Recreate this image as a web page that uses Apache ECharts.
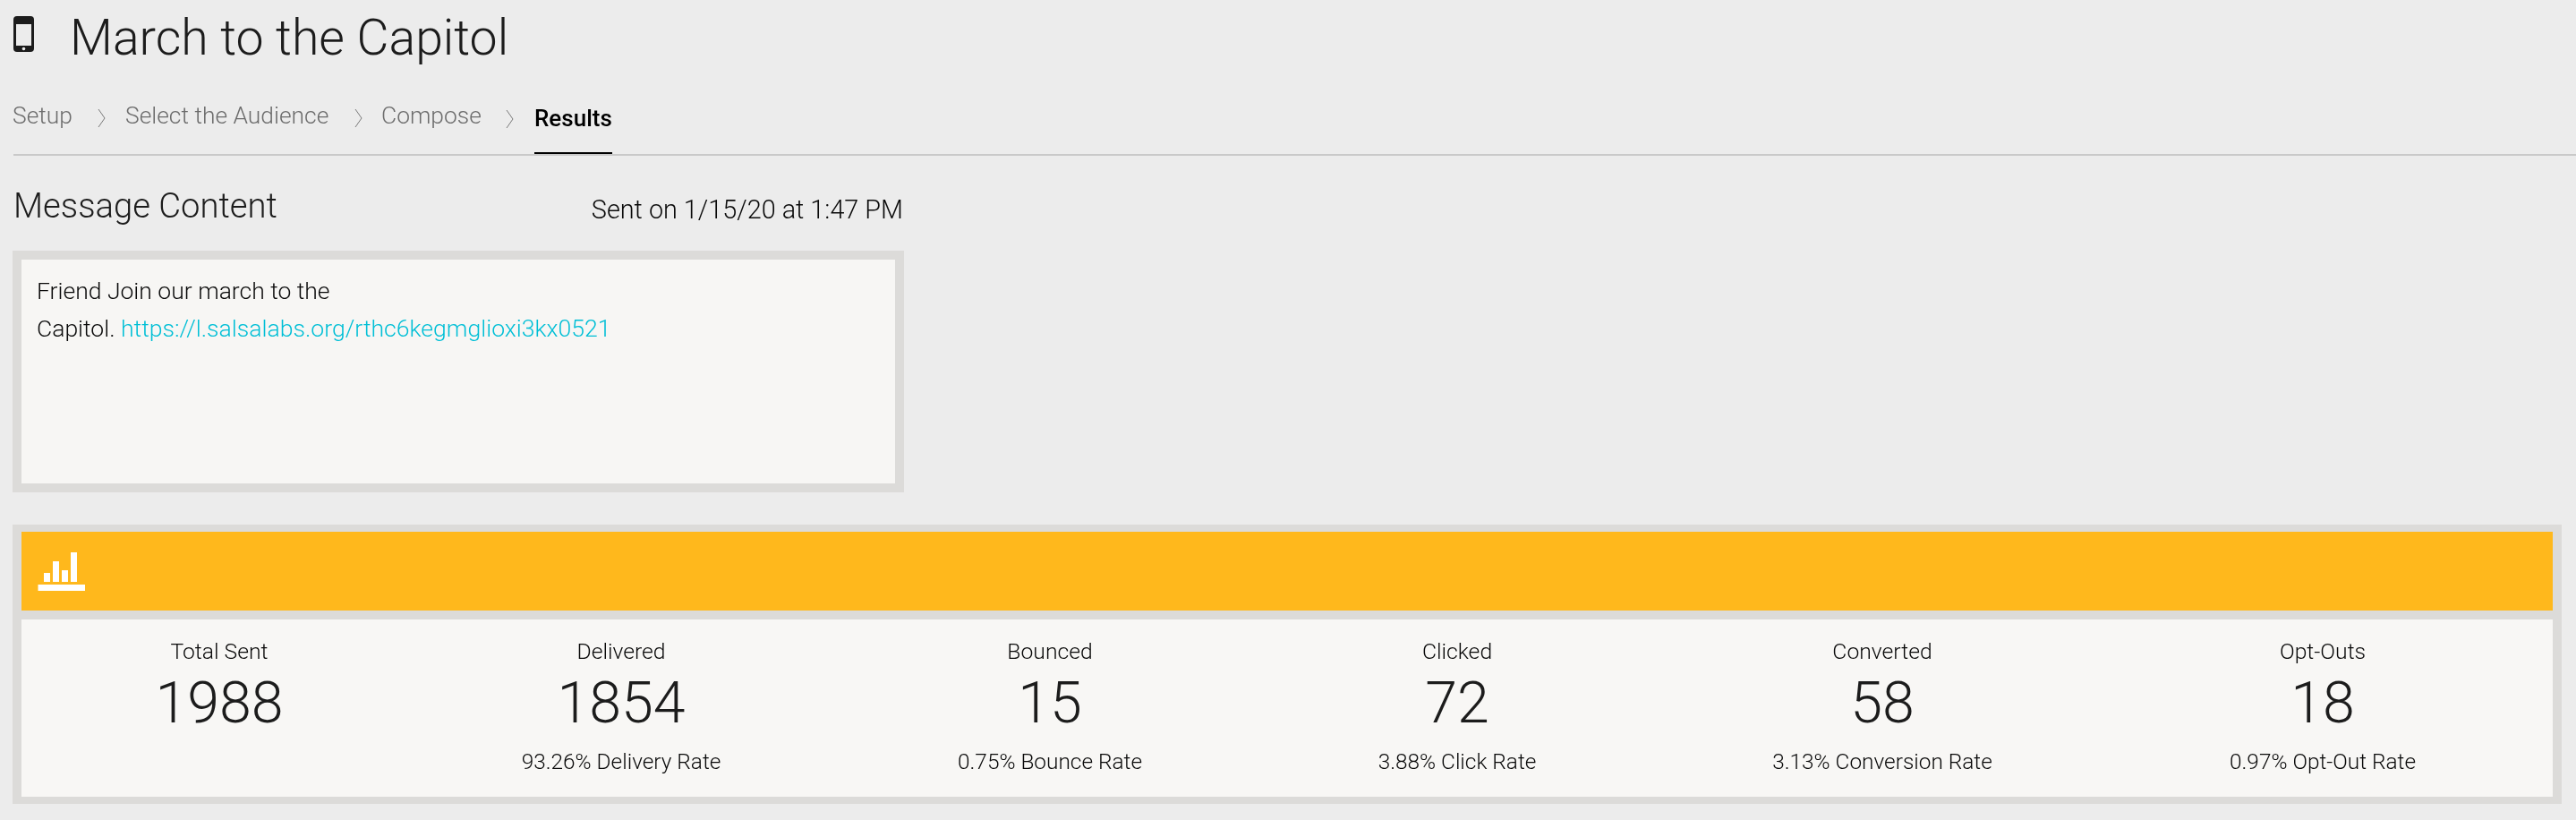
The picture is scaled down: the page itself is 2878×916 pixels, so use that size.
<!DOCTYPE html>
<html lang="en">
<head>
    <meta charset="UTF-8">
    <title>March to the Capitol</title>
    <script src="https://cdnjs.cloudflare.com/ajax/libs/echarts/6.0.0/echarts.min.js"></script>
    <style>
        * { margin: 0; padding: 0; box-sizing: border-box; }
        html, body { width: 100%; height: 100%; background: #ececec; overflow: hidden; }
        #main { width: 2878px; height: 916px; }
    </style>
</head>
<body>
    <div id="main"></div>
    <script>
        // page text
        const pageTitle = 'March to the Capitol';
        const steps = ['Setup', 'Select the Audience', 'Compose', 'Results'];
        const sentOn = 'Sent on 1/15/20 at 1:47 PM';
        const messageLine1 = 'Friend Join our march to the';
        const messageLine2 = 'Capitol. ';
        const messageLink = 'https://l.salsalabs.org/rthc6kegmglioxi3kx0521';

        // results table
        const metricNames = ['Total Sent', 'Delivered', 'Bounced', 'Clicked', 'Converted', 'Opt-Outs'];
        const metricValues = [1988, 1854, 15, 72, 58, 18];
        const metricRates = ['', '93.26% Delivery Rate', '0.75% Bounce Rate', '3.88% Click Rate', '3.13% Conversion Rate', '0.97% Opt-Out Rate'];

        // layout
        const columnCenters = [245, 694, 1173, 1628, 2103, 2595];
        const stepLefts = [14, 140, 426, 597];
        const chevronLefts = [110, 397, 566];
        const iconBars = [[49, 640, 7, 10], [59, 627, 7, 23], [69, 637, 7, 13], [79, 617, 7, 33]];

        const FONT = 'Roboto, sans-serif';
        const INK = '#1c1c1c';
        const SMALL_INK = '#0a0a0a';

        function text(str, x, baseline, size, opts) {
            opts = opts || {};
            return {
                type: 'text',
                x: x,
                y: baseline - size * 0.26,
                style: {
                    text: str,
                    fontFamily: FONT,
                    fontSize: size,
                    fontWeight: opts.weight || 300,
                    fill: opts.color || INK,
                    align: opts.align || 'left',
                    verticalAlign: 'middle'
                }
            };
        }

        function box(x, y, w, h, color, r) {
            return {
                type: 'rect',
                shape: { x: x, y: y, width: w, height: h, r: r || 0 },
                style: { fill: color }
            };
        }

        const elements = [];

        // phone icon + title
        elements.push(box(15, 18, 23, 40, INK, 4));
        elements.push(box(18, 27, 17, 24, '#ececec'));
        elements.push({ type: 'circle', shape: { cx: 26.5, cy: 54.5, r: 1.8 }, style: { fill: '#ececec' } });
        elements.push(text(pageTitle, 78, 62, 55.4));

        // steps
        steps.forEach(function (s, i) {
            const active = i === steps.length - 1;
            elements.push(text(s, stepLefts[i], active ? 141 : 138, active ? 26 : 26.4, {
                color: active ? '#000000' : '#6c6c6c',
                weight: active ? 500 : 300
            }));
        });
        chevronLefts.forEach(function (x, i) {
            const top = i === 2 ? 123 : 122;
            elements.push({
                type: 'polyline',
                shape: { points: [[x, top], [x + 7, top + 10], [x, top + 20]] },
                style: { stroke: '#7a7a7a', lineWidth: 1, fill: null }
            });
        });
        elements.push(box(15, 172, 2863, 2, '#c9c9c9'));
        elements.push(box(597, 170, 87, 2, '#000000'));

        // message box
        elements.push(text('Message Content', 15, 243, 38.2));
        elements.push(text(sentOn, 1009, 244, 28.8, { align: 'right', color: SMALL_INK }));
        elements.push(box(14, 280, 996, 270, '#dcdbd9'));
        elements.push(box(24, 290, 976, 250, '#f7f6f4'));
        elements.push(text(messageLine1, 41, 334, 26.5, { color: SMALL_INK }));
        elements.push(text(messageLine2, 41, 376, 26.5, { color: SMALL_INK }));
        elements.push(text(messageLink, 135, 376, 26.6, { color: '#00bfd6' }));

        // results panel
        elements.push(box(14, 586, 2848, 312, '#dcdbd9'));
        elements.push(box(24, 594, 2828, 88, '#ffb81c'));
        elements.push(box(24, 692, 2828, 198, '#f8f7f5'));
        iconBars.forEach(function (b) {
            elements.push(box(b[0], b[1], b[2], b[3], '#ffffff'));
        });
        elements.push(box(42.5, 653, 52.5, 7, '#ffffff'));

        metricNames.forEach(function (name, i) {
            const cx = columnCenters[i];
            elements.push(text(name, cx, 736, 24.7, { align: 'center', color: SMALL_INK }));
            elements.push(text(String(metricValues[i]), cx, 808, 64.5, { align: 'center' }));
            if (metricRates[i]) {
                elements.push(text(metricRates[i], cx, 859, 24.4, { align: 'center', color: SMALL_INK }));
            }
        });

        var myChart = echarts.init(document.getElementById('main'));
        myChart.setOption({
            backgroundColor: '#ececec',
            animation: false,
            graphic: { elements: elements }
        });
    </script>
</body>
</html>
